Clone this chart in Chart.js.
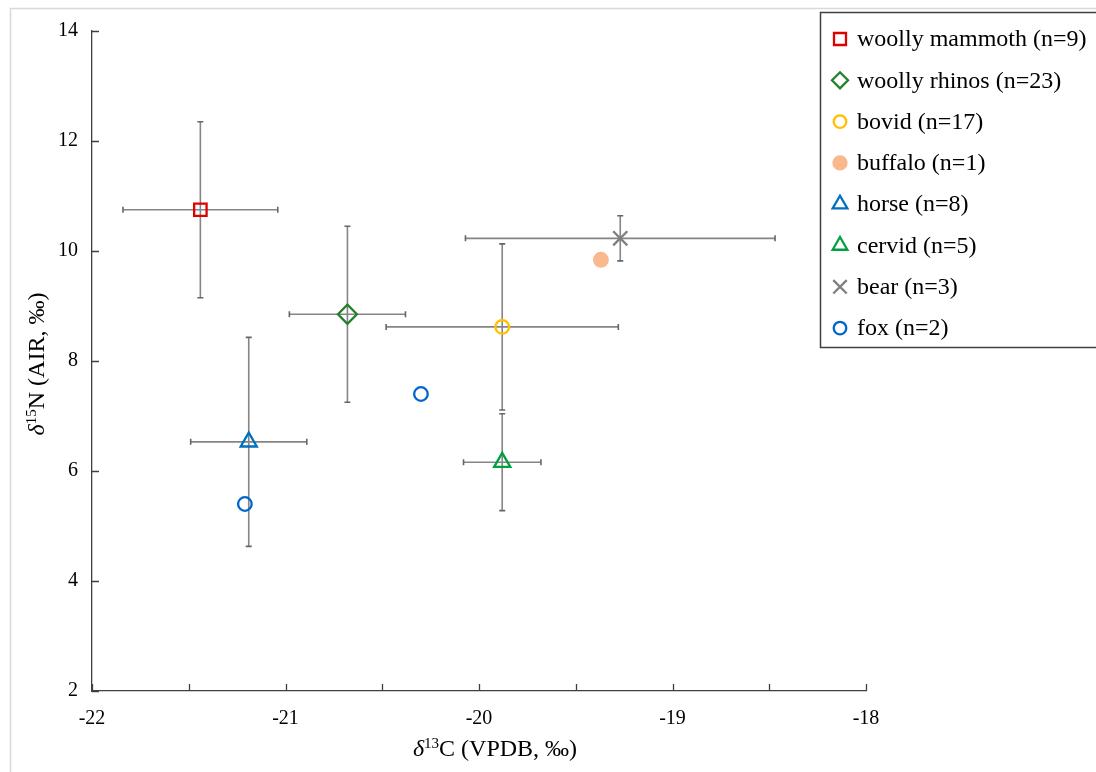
<!DOCTYPE html>
<html>
<head>
<meta charset="utf-8">
<script src="https://cdn.jsdelivr.net/npm/chart.js@4"></script>
<style>
  body { margin: 0; background: #fff; }
</style>
</head>
<body>
<canvas id="chart" width="1096" height="772"></canvas>
<script>
// group means (with 1 SD) of the isotope values
const species = ['woolly mammoth (n=9)', 'woolly rhinos (n=23)', 'bovid (n=17)', 'buffalo (n=1)', 'horse (n=8)', 'cervid (n=5)', 'bear (n=3)'];
const meanC = [-21.44, -20.68, -19.88, -19.37, -21.19, -19.88, -19.27];
const meanN = [10.75, 8.85, 8.62, 9.84, 6.53, 6.16, 10.23];
const sdC = [0.40, 0.30, 0.60, 0, 0.30, 0.20, 0.80];
const sdN = [1.60, 1.60, 1.51, 0, 1.90, 0.88, 0.41];

// the two foxes are plotted one by one
const foxLabel = 'fox (n=2)';
const foxC = [-21.21, -20.30];
const foxN = [5.40, 7.40];

const xRange = [-22, -18];
const yRange = [2, 14];

// marker look for each group, same order as above (fox last)
const styles = [
  { pointStyle: 'rect', color: '#E00000', fill: 'transparent', radius: 8.8, legendRadius: 8.5 },
  { pointStyle: 'rectRot', color: '#23802B', fill: 'transparent', radius: 9.5, legendRadius: 8 },
  { pointStyle: 'circle', color: '#FFC000', fill: 'transparent', radius: 6.8, legendRadius: 6.3 },
  { pointStyle: 'circle', color: '#F9B98C', fill: '#F9B98C', radius: 6.8, legendRadius: 6.5 },
  { pointStyle: 'triangle', color: '#0070C0', fill: 'transparent', radius: 9.3, legendRadius: 8.5 },
  { pointStyle: 'triangle', color: '#00A040', fill: 'transparent', radius: 9.3, legendRadius: 8.5 },
  { pointStyle: 'crossRot', color: '#7F7F7F', fill: 'transparent', radius: 10, legendRadius: 9.5 },
  { pointStyle: 'circle', color: '#0066CC', fill: 'transparent', radius: 6.8, legendRadius: 6.3 }
];

const datasets = species.map((label, i) => ({
  label: label,
  data: [{ x: meanC[i], y: meanN[i], sx: sdC[i], sy: sdN[i] }]
}));
datasets.push({
  label: foxLabel,
  data: foxC.map((c, i) => ({ x: c, y: foxN[i], sx: 0, sy: 0 }))
});
datasets.forEach((ds, i) => {
  const s = styles[i];
  ds.pointStyle = s.pointStyle;
  ds.borderColor = s.color;
  ds.backgroundColor = s.fill;
  ds.pointRadius = s.radius;
  ds.pointHoverRadius = s.radius;
  ds.borderWidth = 2.3;
  ds.legendRadius = s.legendRadius;
});

const serif = '"Liberation Serif", "Times New Roman", serif';

// light frame round the figure
const framePlugin = {
  id: 'frame',
  beforeDraw(chart) {
    const ctx = chart.ctx;
    ctx.save();
    ctx.strokeStyle = '#d9d9d9';
    ctx.lineWidth = 1.5;
    ctx.beginPath();
    ctx.moveTo(10.5, 772);
    ctx.lineTo(10.5, 8.5);
    ctx.lineTo(1096, 8.5);
    ctx.stroke();
    ctx.restore();
  }
};

// SD whiskers, drawn under the markers
const errorBars = {
  id: 'errorBars',
  beforeDatasetsDraw(chart) {
    const { ctx, scales: { x, y } } = chart;
    const cap = 3;
    ctx.save();
    ctx.lineWidth = 1.6;
    chart.data.datasets.forEach(ds => {
      ds.data.forEach(p => {
        if (!p.sx && !p.sy) return;
        const px = x.getPixelForValue(p.x);
        const py = y.getPixelForValue(p.y);
        const x0 = x.getPixelForValue(p.x - p.sx);
        const x1 = x.getPixelForValue(p.x + p.sx);
        const y0 = y.getPixelForValue(p.y + p.sy);
        const y1 = y.getPixelForValue(p.y - p.sy);
        ctx.strokeStyle = '#858585';
        ctx.beginPath();
        ctx.moveTo(x0, py); ctx.lineTo(x1, py);
        ctx.moveTo(px, y0); ctx.lineTo(px, y1);
        ctx.stroke();
        ctx.strokeStyle = '#666';
        ctx.beginPath();
        ctx.moveTo(x0, py - cap); ctx.lineTo(x0, py + cap);
        ctx.moveTo(x1, py - cap); ctx.lineTo(x1, py + cap);
        ctx.moveTo(px - cap, y0); ctx.lineTo(px + cap, y0);
        ctx.moveTo(px - cap, y1); ctx.lineTo(px + cap, y1);
        ctx.stroke();
      });
    });
    ctx.restore();
  }
};

// tick marks point into the plot
const innerTicks = {
  id: 'innerTicks',
  afterDraw(chart) {
    const { ctx, chartArea: a, scales: { x, y } } = chart;
    ctx.save();
    ctx.strokeStyle = '#404040';
    ctx.lineWidth = 1.3;
    ctx.beginPath();
    x.ticks.forEach(t => {
      const px = Math.round(x.getPixelForValue(t.value)) + 0.5;
      ctx.moveTo(px, a.bottom);
      ctx.lineTo(px, a.bottom - 7);
    });
    y.ticks.forEach(t => {
      const py = Math.round(y.getPixelForValue(t.value)) + 0.5;
      ctx.moveTo(a.left, py);
      ctx.lineTo(a.left + 7, py);
    });
    ctx.stroke();
    ctx.restore();
  }
};

// axis titles with italic delta and superscript mass number
function isoTitle(ctx, mass, rest, cx, baseline) {
  const big = '24px ' + serif;
  const italic = 'italic 24px ' + serif;
  const small = '15px ' + serif;
  ctx.font = italic; const w1 = ctx.measureText('δ').width;
  ctx.font = small; const w2 = ctx.measureText(mass).width;
  ctx.font = big; const w3 = ctx.measureText(rest).width;
  let x = cx - (w1 + w2 + w3) / 2;
  ctx.textAlign = 'left';
  ctx.textBaseline = 'alphabetic';
  ctx.font = italic; ctx.fillText('δ', x, baseline); x += w1;
  ctx.font = small; ctx.fillText(mass, x, baseline - 8); x += w2;
  ctx.font = big; ctx.fillText(rest, x, baseline);
}

const axisTitles = {
  id: 'axisTitles',
  afterDraw(chart) {
    const { ctx, chartArea: a } = chart;
    ctx.save();
    ctx.fillStyle = '#000';
    isoTitle(ctx, '13', 'C (VPDB, ‰)', (a.left + a.right) / 2 + 16, 756);
    ctx.translate(44, (a.top + a.bottom) / 2 + 3);
    ctx.rotate(-Math.PI / 2);
    isoTitle(ctx, '15', 'N (AIR, ‰)', 0, 0);
    ctx.restore();
  }
};

// boxed legend in the top right corner
const boxLegend = {
  id: 'boxLegend',
  afterDraw(chart) {
    const ctx = chart.ctx;
    ctx.save();
    ctx.fillStyle = '#fff';
    ctx.fillRect(820.5, 12.5, 290, 335);
    ctx.strokeStyle = '#404040';
    ctx.lineWidth = 1.5;
    ctx.strokeRect(820.5, 12.5, 290, 335);
    chart.data.datasets.forEach((ds, i) => {
      const cy = 39 + i * 41.3;
      ctx.strokeStyle = ds.borderColor;
      ctx.fillStyle = ds.backgroundColor;
      ctx.lineWidth = ds.borderWidth;
      Chart.helpers.drawPoint(ctx, {
        pointStyle: ds.pointStyle,
        radius: ds.legendRadius,
        rotation: 0,
        borderWidth: ds.borderWidth
      }, 840, cy);
      ctx.fillStyle = '#000';
      ctx.font = '24px ' + serif;
      ctx.textAlign = 'left';
      ctx.textBaseline = 'middle';
      ctx.fillText(ds.label, 857, cy + 1);
    });
    ctx.restore();
  }
};

new Chart(document.getElementById('chart'), {
  type: 'scatter',
  data: { datasets: datasets },
  options: {
    responsive: false,
    animation: false,
    events: [],
    layout: { padding: { top: 31, right: 230, bottom: 0, left: 0 } },
    plugins: {
      legend: { display: false },
      tooltip: { enabled: false }
    },
    scales: {
      x: {
        type: 'linear',
        min: xRange[0],
        max: xRange[1],
        grid: { display: false, drawTicks: false },
        border: { display: true, color: '#404040', width: 1.3 },
        ticks: {
          stepSize: 0.5,
          autoSkip: false,
          maxRotation: 0,
          padding: 16,
          color: '#000',
          font: { family: serif, size: 20 },
          callback: v => Number.isInteger(v) ? String(v) : ''
        },
        afterFit: s => { s.height = 81; }
      },
      y: {
        type: 'linear',
        min: yRange[0],
        max: yRange[1],
        grid: { display: false, drawTicks: false },
        border: { display: true, color: '#404040', width: 1.3 },
        ticks: {
          stepSize: 2,
          padding: 14,
          color: '#000',
          font: { family: serif, size: 20 },
          callback: v => String(v)
        },
        afterFit: s => { s.width = 92; }
      }
    }
  },
  plugins: [framePlugin, errorBars, innerTicks, axisTitles, boxLegend]
});
</script>
</body>
</html>
